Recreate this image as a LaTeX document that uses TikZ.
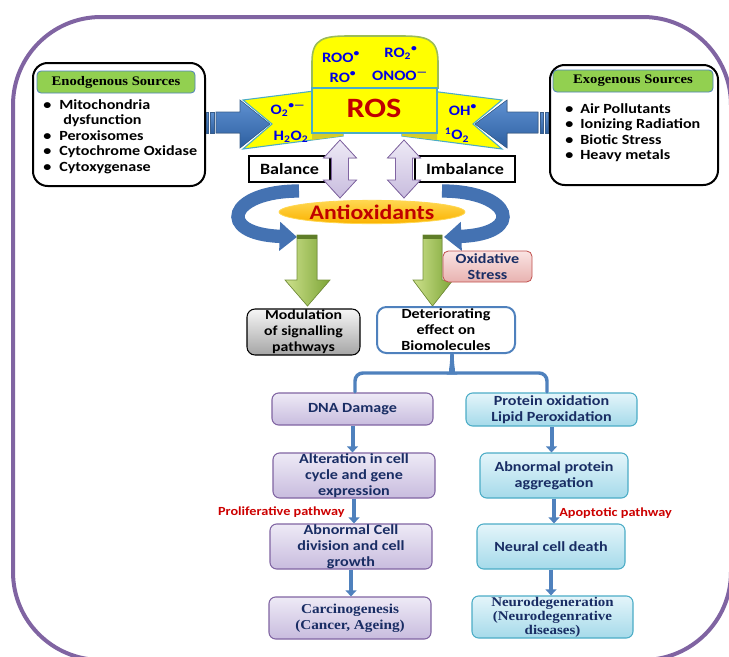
\documentclass[tikz,border=0pt]{standalone}
\usepackage{fontspec}
\setmainfont{Carlito}[FakeStretch=1.15]
\newfontfamily\serifb{Liberation Serif}[FakeStretch=1.12]
\usetikzlibrary{arrows.meta,shapes.geometric,fit}
\definecolor{framec}{RGB}{128,100,162}
\definecolor{rosyellow}{RGB}{255,255,0}
\definecolor{domeb}{RGB}{155,187,89}
\definecolor{tealb}{RGB}{75,172,198}
\definecolor{rosred}{RGB}{192,0,0}
\definecolor{rosblue}{RGB}{0,0,230}
\definecolor{arrtop}{RGB}{95,145,210}
\definecolor{arrbot}{RGB}{45,95,160}
\definecolor{arredge}{RGB}{56,93,138}
\definecolor{curvec}{RGB}{68,114,178}
\definecolor{hgreen}{RGB}{146,208,80}
\definecolor{hgreenb}{RGB}{79,129,189}
\definecolor{lavt}{RGB}{238,234,246}
\definecolor{lavbot}{RGB}{200,188,222}
\definecolor{lavb}{RGB}{128,100,162}
\definecolor{antit}{RGB}{255,215,80}
\definecolor{antib}{RGB}{250,178,0}
\definecolor{grl}{RGB}{205,225,140}
\definecolor{grr}{RGB}{125,165,55}
\definecolor{grb}{RGB}{118,146,60}
\definecolor{grcap}{RGB}{95,125,40}
\definecolor{pinkt}{RGB}{250,228,227}
\definecolor{pinkb}{RGB}{232,178,176}
\definecolor{pinkd}{RGB}{192,80,77}
\definecolor{grayt}{RGB}{246,246,246}
\definecolor{grayb}{RGB}{165,165,165}
\definecolor{detb}{RGB}{79,129,189}
\definecolor{navy}{RGB}{25,45,100}
\definecolor{cyt}{RGB}{228,245,250}
\definecolor{cybot}{RGB}{165,218,234}
\definecolor{cyb}{RGB}{75,172,198}
\definecolor{colblue}{RGB}{79,129,189}
\definecolor{pathred}{RGB}{204,0,0}
\definecolor{feetc}{RGB}{215,205,40}
\newcommand{\bul}{\makebox[12pt][l]{•}}
\newcommand{\bulx}{\makebox[11.3pt][l]{•}}
\begin{document}
\begin{tikzpicture}[x=0.75pt,y=-0.75pt,
  every node/.style={inner sep=0pt},
  posbox/.style n args={4}{at={({(#1+#3)/2},{(#2+#4)/2})},minimum width={(#3-#1)*0.75pt},minimum height={(#4-#2)*0.75pt}},
  srcbox/.style={draw=black,line width=1.5pt,rounded corners=11pt,fill=white},
  hdr/.style={draw=hgreenb,line width=0.6pt,fill=hgreen,rounded corners=3pt,font=\serifb\bfseries\fontsize{9.8}{11}\selectfont},
  srclist/.style={align=left,anchor=north west,font=\bfseries\fontsize{10.5}{11.7}\selectfont},
  tagbox/.style={draw=black,line width=1.1pt,fill=white,font=\bfseries\fontsize{11.8}{13}\selectfont},
  spec/.style={text=rosblue,font=\bfseries\fontsize{10.8}{12}\selectfont},
  blarrow/.style={top color=arrtop,bottom color=arrbot,draw=arredge,line width=0.4pt},
  dblarrow/.style={top color=lavt,bottom color=lavbot,draw=lavb,line width=0.6pt},
  grarrow/.style={left color=grl,right color=grr,draw=grb,line width=0.5pt},
  curvearrow/.style={draw=curvec,line width=10pt,-{Triangle[length=13pt,width=21pt]}},
  lavbox/.style={draw=lavb,line width=0.8pt,top color=lavt,bottom color=lavbot,rounded corners=5pt,align=center,text=navy,font=\bfseries\fontsize{10.5}{12}\selectfont},
  cybox/.style={draw=cyb,line width=0.8pt,top color=cyt,bottom color=cybot,rounded corners=5pt,align=center,text=navy,font=\bfseries\fontsize{10.5}{12}\selectfont},
  colarrow/.style={draw=colblue,line width=3pt,-{Triangle[length=4.5pt,width=8pt]}},
  pathlbl/.style={text=pathred,font=\bfseries\fontsize{9.3}{11}\selectfont},
  brace/.style={draw=detb,line width=2.6pt,line cap=round}
]
\useasboundingbox (0,0) rectangle (729,657);
% outer frame
\draw[draw=framec,line width=3pt,rounded corners=66pt] (13,17) rectangle (731,660);

% source boxes
\node[srcbox,posbox={33}{63}{205}{186}] (endo) {};
\node[hdr,posbox={37}{71}{195}{93}] (endoh) {Enodgenous Sources};
\node[srclist] (endol) at (43,99) {\bul Mitochondria\\\hspace*{15pt}dysfunction\\\bul Peroxisomes\\\bul Cytochrome Oxidase\\\bul Cytoxygenase};
\node[srcbox,posbox={550}{65}{718}{185}] (exo) {};
\node[hdr,posbox={553}{70}{713}{92}] (exoh) {Exogenous Sources};
\node[srclist] (exol) at (565,103) {\bulx Air Pollutants\\\bulx Ionizing Radiation\\\bulx Biotic Stress\\\bulx Heavy metals};

% blue input arrows
\fill[blarrow] (206,112) rectangle (208.5,133);
\fill[blarrow] (210.5,112) rectangle (214,133);
\filldraw[blarrow] (216,112) -- (240,112) -- (240,100) -- (270,124) -- (240,148) -- (240,133) -- (216,133) -- cycle;
\fill[blarrow] (548,112) rectangle (545.5,133);
\fill[blarrow] (543.5,112) rectangle (540,133);
\filldraw[blarrow] (538,112) -- (507,112) -- (507,100) -- (475,124) -- (507,148) -- (507,133) -- (538,133) -- cycle;

% ROS wings, dome and core
\filldraw[fill=rosyellow,draw=tealb,line width=0.8pt] (243,100) -- (330,89) -- (343,133) -- (343,136) -- (243,149) -- (272,124) -- cycle;
\filldraw[fill=rosyellow,draw=tealb,line width=0.8pt] (502,100) -- (415,89) -- (402,133) -- (402,136) -- (502,149) -- (473,124) -- cycle;
\fill[feetc] (312,133) -- (343,133) -- (343,136) -- (312,140) -- cycle;
\fill[feetc] (437,133) -- (402,133) -- (402,136) -- (437,140) -- cycle;
\filldraw[fill=rosyellow,draw=domeb,line width=1.2pt] (312,88) -- (312,62) .. controls (312,38) and (324,36) .. (350,36) -- (400,36) .. controls (426,36) and (438,38) .. (438,62) -- (438,88) -- cycle;
\node[draw=tealb,line width=1pt,fill=rosyellow,posbox={312}{88}{437}{133}] (ros) {};
\node[text=rosred,font=\bfseries\fontsize{21}{24}\selectfont] (roslbl) at (374,108) {ROS};
\node[spec] (roo) at (341,57) {ROO\textsuperscript{•}};
\node[spec] (ro2) at (401,53) {RO\textsubscript{2}\textsuperscript{•}};
\node[spec] (ro) at (343,77) {RO\textsuperscript{•}};
\node[spec] (onoo) at (400,76) {ONOO\textsuperscript{\textbf{—}}};
\node[spec] (o2) at (288,110) {O\textsubscript{2}\textsuperscript{•—}};
\node[spec] (h2o2) at (291,137) {H\textsubscript{2}O\textsubscript{2}};
\node[spec] (oh) at (463,110) {OH\textsuperscript{•}};
\node[spec] (singo) at (457,135) {\textsuperscript{1}O\textsubscript{2}};

% balance / imbalance
\node[tagbox,posbox={249}{156}{330}{182}] (bal) {Balance};
\node[tagbox,posbox={415}{156}{515}{182}] (imb) {Imbalance};

% curved arrows
\draw[curvearrow] (299,191) .. controls (228,191) and (215,234) .. (297,237);
\draw[curvearrow] (442,191) .. controls (513,191) and (526,234) .. (444,237);

% antioxidants
\node[ellipse,draw=antit,line width=0.6pt,top color=antit,bottom color=antib,minimum width=139.5pt,minimum height=17.5pt,text=rosred,font=\bfseries\fontsize{15.5}{18}\selectfont] (anti) at (372,212) {Antioxidants};

% double arrows
\filldraw[dblarrow] (340,140) -- (356.5,158) -- (348.5,158) -- (348.5,180) -- (356.5,180) -- (340,198) -- (323.5,180) -- (331.5,180) -- (331.5,158) -- (323.5,158) -- cycle;
\filldraw[dblarrow] (404,140) -- (420.5,158) -- (412.5,158) -- (412.5,180) -- (420.5,180) -- (404,198) -- (387.5,180) -- (395.5,180) -- (395.5,158) -- (387.5,158) -- cycle;

% green arrows
\filldraw[grarrow] (297,235) -- (317,235) -- (317,280) -- (330,280) -- (307.5,306) -- (285,280) -- (297,280) -- cycle;
\fill[grcap] (297,235) rectangle (317,239);
\filldraw[grarrow] (423,235) -- (442,235) -- (442,280) -- (453,280) -- (432.5,306) -- (413,280) -- (423,280) -- cycle;
\fill[grcap] (423,235) rectangle (442,239);

% oxidative stress
\node[draw=pinkd,line width=0.6pt,top color=pinkt,bottom color=pinkb,rounded corners=4pt,align=center,text=navy,font=\bfseries\fontsize{10.5}{12}\selectfont,posbox={443}{251}{532}{282}] (ox) {Oxidative\\Stress};

% outcome boxes
\node[draw=black,line width=0.8pt,top color=grayt,bottom color=grayb,rounded corners=6pt,align=center,font=\bfseries\fontsize{10.3}{12}\selectfont,posbox={247}{309}{360}{355}] (mod) {Modulation\\of signalling\\pathways};
\node[draw=detb,line width=1.5pt,fill=white,rounded corners=7pt,align=center,font=\bfseries\fontsize{10.5}{12}\selectfont,posbox={377}{307}{515}{353}] (det) {Deteriorating\\effect on\\Biomolecules};

% left column
\node[lavbox,posbox={272}{393}{433}{425}] (dna) {DNA Damage};
\node[lavbox,posbox={273}{453}{435}{498}] (alt) {Alteration in cell\\cycle and gene\\expression};
\node[lavbox,posbox={270}{524}{432}{569}] (abn) {Abnormal Cell\\division and cell\\growth};
\node[lavbox,font=\serifb\bfseries\fontsize{10.2}{11.8}\selectfont,posbox={269}{597}{431}{639}] (carc) {Carcinogenesis\\(Cancer, Ageing)};
% right column
\node[cybox,posbox={466}{393}{637}{426}] (prot) {Protein oxidation\\Lipid Peroxidation};
\node[cybox,posbox={480}{453}{628}{498}] (agg) {Abnormal protein\\aggregation};
\node[cybox,posbox={477}{524}{625}{569}] (death) {Neural cell death};
\node[cybox,font=\serifb\bfseries\fontsize{10}{10.6}\selectfont,posbox={472}{596}{633}{638}] (neuro) {Neurodegeneration\\(Neurodegenrative\\diseases)};

% brace
\coordinate (cusp) at (452,354);
\coordinate (bl) at (355,392);
\coordinate (br) at (547,392);
\draw[brace] (bl) {[rounded corners=6pt] -- (355,373) -- (444,373)} .. controls (449,373) and (452,369) .. (cusp);
\draw[brace] (br) {[rounded corners=6pt] -- (547,373) -- (460,373)} .. controls (455,373) and (452,369) .. (cusp);

% column arrows
\draw[colarrow] (dna.south) -- (dna.south |- alt.north);
\draw[colarrow] (alt.south) -- (alt.south |- abn.north);
\draw[colarrow] (abn.south) -- (abn.south |- carc.north);
\draw[colarrow] (prot.south) -- (prot.south |- agg.north);
\draw[colarrow] (agg.south) -- (agg.south |- death.north);
\draw[colarrow] (death.south) -- (death.south |- neuro.north);

\node[pathlbl,anchor=east] (prolif) at (345,512) {Proliferative pathway};
\node[pathlbl,anchor=west] (apop) at (559,513) {Apoptotic pathway};
\end{tikzpicture}
\end{document}
